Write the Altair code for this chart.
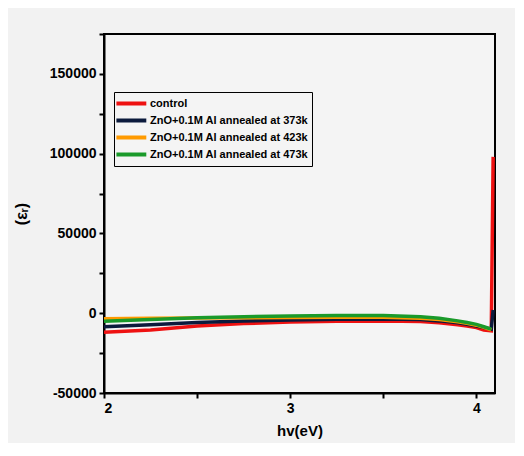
import altair as alt
import pandas as pd

series = ["control", "ZnO+0.1M Al annealed at 373k", "ZnO+0.1M Al annealed at 423k", "ZnO+0.1M Al annealed at 473k"]
colors = ["#ee1111", "#0b1a3c", "#ff9a00", "#1a9a2a"]

x_red = [2.0, 2.25, 2.5, 2.75, 3.0, 3.25, 3.5, 3.7, 3.8, 3.9, 3.95, 4.0, 4.04, 4.08, 4.09]
y_red = [-12000, -10500, -8000, -6500, -5500, -5000, -4800, -5200, -6000, -7200, -8000, -9000, -10500, -11000, 98000]

x_blk = [2.0, 2.25, 2.5, 2.75, 3.0, 3.25, 3.5, 3.7, 3.8, 3.9, 3.95, 4.0, 4.04, 4.08, 4.09]
y_blk = [-8500, -7200, -5800, -4800, -4200, -3800, -3600, -4000, -4800, -6000, -7000, -8000, -9000, -10000, 2000]

x_org = [2.0, 2.25, 2.5, 2.75, 3.0, 3.25, 3.5, 3.7, 3.8, 3.9, 3.95, 4.0, 4.04, 4.08]
y_org = [-3500, -3200, -3000, -2800, -2700, -2600, -2600, -3200, -4000, -5400, -6300, -7500, -8800, -10500]

x_grn = [2.0, 2.25, 2.5, 2.75, 3.0, 3.25, 3.5, 3.7, 3.8, 3.9, 3.95, 4.0, 4.04, 4.08]
y_grn = [-5000, -4000, -2800, -2200, -1800, -1500, -1500, -2200, -3200, -4800, -5800, -7000, -8500, -10000]

rows = []
for i, (xs, ys) in enumerate([(x_red, y_red), (x_blk, y_blk), (x_org, y_org), (x_grn, y_grn)]):
    for j, (a, b) in enumerate(zip(xs, ys)):
        rows.append({"x": a, "y": b, "s": series[i], "o": i, "k": j})
df = pd.DataFrame(rows)

font = "Liberation Sans"

chart = alt.Chart(df).mark_line(strokeWidth=3.5, interpolate="linear").encode(
    x=alt.X("x:Q", scale=alt.Scale(domain=[2, 4.1], nice=False, zero=False),
            axis=alt.Axis(title="hv(eV)", values=[2, 2.5, 3, 3.5, 4],
                          labelExpr="datum.value % 1 == 0 ? datum.value : ''",
                          grid=False, domainColor="black", domainWidth=2,
                          tickColor="black", tickWidth=2, tickSize=5,
                          labelFont=font, labelFontWeight="bold", labelFontSize=14,
                          labelColor="black", labelPadding=3,
                          titleFont=font, titleFontWeight="bold", titleFontSize=15,
                          titleColor="black", titlePadding=8)),
    y=alt.Y("y:Q", scale=alt.Scale(domain=[-50000, 175000], nice=False, zero=False),
            axis=alt.Axis(title="(εᵣ)", values=list(range(-50000, 175001, 25000)),
                          labelExpr="datum.value % 50000 == 0 ? datum.value : ''",
                          format="d",
                          grid=False, domainColor="black", domainWidth=2,
                          tickColor="black", tickWidth=2, tickSize=5,
                          labelFont=font, labelFontWeight="bold", labelFontSize=14,
                          labelColor="black", labelPadding=3,
                          titleFont=font, titleFontWeight="bold", titleFontSize=16,
                          titleColor="black", titlePadding=20)),
    color=alt.Color("s:N", scale=alt.Scale(domain=series, range=colors),
                    legend=alt.Legend(title=None, orient="none", legendX=10, legendY=58,
                                      symbolType="M-1.4,0L3.2,0", symbolSize=169, symbolStrokeWidth=4,
                                      labelFont=font, labelFontWeight="bold", labelFontSize=11,
                                      labelColor="black", labelLimit=300, rowPadding=-4,
                                      labelOffset=16,
                                      strokeColor="black", padding=3, offset=0)),
    order=alt.Order("k:Q"),
    detail="s:N",
).properties(
    width=391, height=359,
    autosize=alt.AutoSizeParams(type="none"),
    padding={"left": 96, "top": 26, "right": 20, "bottom": 50},
    background="#f2f2f2",
).configure_view(stroke="black", strokeWidth=2, fill="#f4f4f4")

chart.save("out.html", embed_options={"renderer": "svg", "actions": False})
